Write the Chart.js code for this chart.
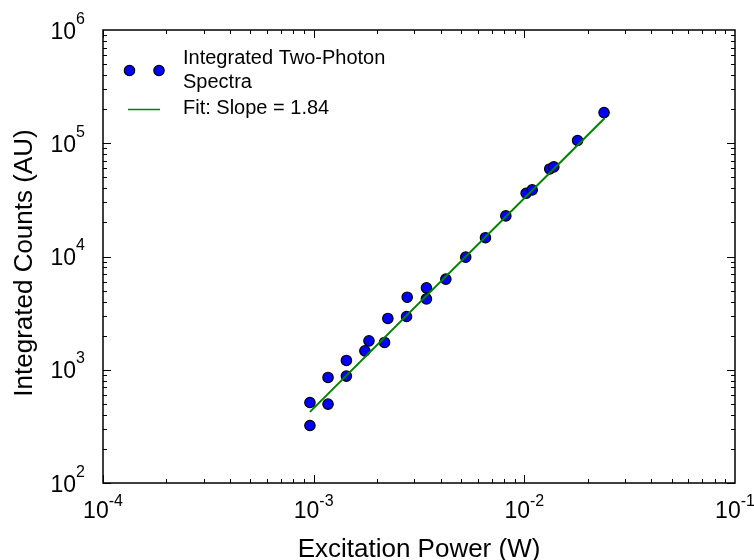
<!DOCTYPE html>
<html>
<head>
<meta charset="utf-8">
<script src="https://cdn.jsdelivr.net/npm/chart.js@4.4.1/dist/chart.umd.min.js"></script>
<style>
    html, body { margin: 0; padding: 0; background: #fff; }
    #box { width: 754px; height: 560px; }
</style>
</head>
<body>
<div id="box"><canvas id="powerChart" width="754" height="560"></canvas></div>
<script>
// excitation power (W) and integrated counts
const power = [0.00096, 0.00096, 0.00117, 0.00117, 0.00143, 0.00143, 0.00175, 0.00183,
    0.00217, 0.00225, 0.00276, 0.00278, 0.00343, 0.00343, 0.00424, 0.00527,
    0.00654, 0.00817, 0.0102, 0.0109, 0.0132, 0.0138, 0.0179, 0.0239];
const counts = [322, 514, 855, 497, 1208, 879, 1469, 1800,
    1742, 2838, 2953, 4371, 4224, 5284, 6309, 9866,
    14660, 22820, 36200, 38730, 59300, 61800, 105700, 186600];

// fit line end points
const fitPower = [0.00096, 0.0241];
const fitCounts = [425, 167000];

// decade exponents for tick labels
const xExp = [-4, -3, -2, -1];
const yExp = [2, 3, 4, 5, 6];

const FONT = '"Liberation Sans", Arial, sans-serif';

const frame = {
    id: 'frame',
    afterDraw(chart) {
        const ctx = chart.ctx;
        const a = chart.chartArea;
        const xs = chart.scales.x, ys = chart.scales.y;
        ctx.save();

        // minor + major ticks, pointing inward on all four sides
        ctx.strokeStyle = '#000';
        ctx.lineWidth = 1;
        ctx.beginPath();
        for (let e = xExp[0]; e < xExp[xExp.length - 1]; e++) {
            for (let m = 1; m < 10; m++) {
                const px = Math.round(xs.getPixelForValue(m * Math.pow(10, e))) + 0.5;
                const len = m === 1 ? 8 : 4;
                ctx.moveTo(px, a.bottom); ctx.lineTo(px, a.bottom - len);
                ctx.moveTo(px, a.top); ctx.lineTo(px, a.top + len);
            }
        }
        for (let e = yExp[0]; e < yExp[yExp.length - 1]; e++) {
            for (let m = 1; m < 10; m++) {
                const py = Math.round(ys.getPixelForValue(m * Math.pow(10, e))) + 0.5;
                const len = m === 1 ? 8 : 4;
                ctx.moveTo(a.left, py); ctx.lineTo(a.left + len, py);
                ctx.moveTo(a.right, py); ctx.lineTo(a.right - len, py);
            }
        }
        ctx.stroke();

        ctx.lineWidth = 1.5;
        ctx.strokeRect(a.left, a.top, a.right - a.left, a.bottom - a.top);

        // tick labels as 10 with superscript
        ctx.fillStyle = '#000';
        const big = '23px ' + FONT, small = '16px ' + FONT;
        ctx.textBaseline = 'alphabetic';
        xExp.forEach(e => {
            const px = xs.getPixelForValue(Math.pow(10, e));
            ctx.font = big; const w1 = ctx.measureText('10').width;
            ctx.font = small; const w2 = ctx.measureText(String(e)).width;
            const x0 = px - (w1 + w2) / 2;
            ctx.font = big; ctx.textAlign = 'left';
            ctx.fillText('10', x0, 518);
            ctx.font = small;
            ctx.fillText(String(e), x0 + w1, 506);
        });
        yExp.forEach(e => {
            const py = ys.getPixelForValue(Math.pow(10, e));
            ctx.font = small; const w2 = ctx.measureText(String(e)).width;
            ctx.font = big; ctx.textAlign = 'right';
            ctx.fillText('10', 85 - w2, py + 8.5);
            ctx.font = small; ctx.textAlign = 'left';
            ctx.fillText(String(e), 85 - w2, py - 6.5);
        });

        // axis titles
        ctx.font = '26px ' + FONT;
        ctx.textAlign = 'center';
        ctx.fillText('Excitation Power (W)', (a.left + a.right) / 2, 557);
        ctx.save();
        ctx.translate(32, 263);
        ctx.rotate(-Math.PI / 2);
        ctx.fillText('Integrated Counts (AU)', 0, 0);
        ctx.restore();

        // legend
        ctx.font = '20px ' + FONT;
        ctx.textAlign = 'left';
        ctx.fillText('Integrated Two-Photon', 183, 64);
        ctx.fillText('Spectra', 183, 87.5);
        ctx.fillText('Fit: Slope = 1.84', 183, 113.5);
        [129.5, 159].forEach(cx => {
            ctx.beginPath();
            ctx.arc(cx, 70.5, 5.2, 0, Math.PI * 2);
            ctx.fillStyle = '#0000ff';
            ctx.fill();
            ctx.lineWidth = 1.2;
            ctx.strokeStyle = '#000';
            ctx.stroke();
        });
        ctx.beginPath();
        ctx.strokeStyle = '#008000';
        ctx.lineWidth = 1.5;
        ctx.moveTo(128, 109.5); ctx.lineTo(160, 109.5);
        ctx.stroke();

        ctx.restore();
    }
};

new Chart(document.getElementById('powerChart'), {
    type: 'scatter',
    data: {
        datasets: [{
            label: 'Fit: Slope = 1.84',
            type: 'line',
            data: fitPower.map((p, i) => ({ x: p, y: fitCounts[i] })),
            borderColor: '#008000',
            borderWidth: 2,
            pointRadius: 0,
            fill: false,
            order: 0
        }, {
            label: 'Integrated Two-Photon Spectra',
            data: power.map((p, i) => ({ x: p, y: counts[i] })),
            backgroundColor: '#0000ff',
            borderColor: '#000',
            borderWidth: 1.2,
            pointRadius: 5.2,
            order: 1
        }]
    },
    options: {
        responsive: false,
        devicePixelRatio: 1,
        animation: false,
        layout: { padding: { left: 103, top: 30, right: 19, bottom: 77 } },
        plugins: { legend: { display: false }, tooltip: { enabled: false } },
        scales: {
            x: { type: 'logarithmic', min: 1e-4, max: 1e-1, display: false },
            y: { type: 'logarithmic', min: 1e2, max: 1e6, display: false }
        }
    },
    plugins: [frame]
});
</script>
</body>
</html>
